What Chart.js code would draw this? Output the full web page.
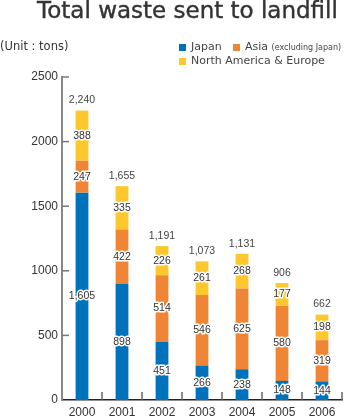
<!DOCTYPE html>
<html>
<head>
<meta charset="utf-8">
<script src="https://cdn.jsdelivr.net/npm/chart.js@4"></script>
<style>
  html, body { margin: 0; padding: 0; background: #fff; }
  body { width: 350px; height: 417px; position: relative; overflow: hidden;
         font-family: "DejaVu Sans", sans-serif; color: #333; }
  #chart { position: absolute; left: 0; top: 0; }
  .title { position: absolute; left: 0; width: 375px; top: -1px; text-align: center;
           font-size: 23px; line-height: 23px; color: #333; white-space: nowrap;
           -webkit-text-stroke: 0.4px #333; }
  .unit { position: absolute; left: 0; top: 39px; font-size: 11.5px; line-height: 14px; white-space: nowrap; }
  .lg { position: absolute; font-size: 11px; line-height: 14px; white-space: nowrap; color: #444; }
  .sw { position: absolute; width: 7px; height: 7px; }
  .lg small { font-size: 8px; }
</style>
</head>
<body>
<canvas id="chart" width="350" height="417"></canvas>
<div class="title">Total waste sent to landfill</div>
<div class="unit">(Unit : tons)</div>
<div id="legend"></div>
<script>
const years = ['2000', '2001', '2002', '2003', '2004', '2005', '2006'];
const japan = [1605, 898, 451, 266, 238, 148, 144];
const asia = [247, 422, 514, 546, 625, 580, 319];
const northAmericaEurope = [388, 335, 226, 261, 268, 177, 198];
const totals = [2240, 1655, 1191, 1073, 1131, 906, 662];
const yTicks = [0, 500, 1000, 1500, 2000, 2500];

const colors = { japan: '#0071bb', asia: '#ef8535', nae: '#fcc82d' };

// legend, laid out in two rows like the original
const legendItems = [
  { html: 'Japan', color: colors.japan, x: 179, y: 40 },
  { html: 'Asia <small>(excluding Japan)</small>', color: colors.asia, x: 233, y: 40 },
  { html: 'North America &amp; Europe', color: colors.nae, x: 179, y: 54 }
];
document.getElementById('legend').innerHTML = legendItems.map(it =>
  `<span class="sw" style="background:${it.color}; left:${it.x}px; top:${it.y + 4}px"></span>` +
  `<span class="lg" style="left:${it.x + 12}px; top:${it.y}px">${it.html}</span>`
).join('');

const numFont = '"Liberation Sans", Arial, sans-serif';
const fmt = v => v.toLocaleString('en-US');

// inward tick marks + value labels
const marksPlugin = {
  id: 'marks',
  afterDatasetsDraw(chart) {
    const ctx = chart.ctx;
    const xs = chart.scales.x, ys = chart.scales.y;
    const area = chart.chartArea;
    ctx.save();
    // y ticks pointing right
    ctx.strokeStyle = '#777';
    ctx.lineWidth = 1.5;
    yTicks.forEach(v => {
      if (v === 0) return;
      const y = ys.getPixelForValue(v);
      ctx.beginPath();
      ctx.moveTo(area.left, y);
      ctx.lineTo(area.left + 7, y);
      ctx.stroke();
    });
    // x ticks at category boundaries pointing up
    const step = (area.right - area.left) / years.length;
    ctx.strokeStyle = '#666';
    years.forEach((_, i) => {
      const x = xs.getPixelForValue(i) + step / 2;
      ctx.beginPath();
      ctx.moveTo(x, area.bottom);
      ctx.lineTo(x, area.bottom - 8);
      ctx.stroke();
    });

    // segment labels with white halo
    ctx.font = '10.5px ' + numFont;
    ctx.textAlign = 'center';
    ctx.textBaseline = 'middle';
    ctx.lineJoin = 'round';
    chart.data.datasets.forEach((ds, di) => {
      const meta = chart.getDatasetMeta(di);
      meta.data.forEach((bar, i) => {
        const y = (bar.y + bar.base) / 2;
        const txt = fmt(ds.data[i]);
        ctx.strokeStyle = '#fff';
        ctx.lineWidth = 3;
        ctx.strokeText(txt, bar.x, y);
        ctx.fillStyle = '#333';
        ctx.fillText(txt, bar.x, y);
      });
    });
    // totals above bars
    const top = chart.getDatasetMeta(chart.data.datasets.length - 1);
    ctx.fillStyle = '#444';
    top.data.forEach((bar, i) => {
      ctx.fillText(fmt(totals[i]), bar.x, bar.y - 10);
    });
    ctx.restore();
  }
};

new Chart(document.getElementById('chart'), {
  type: 'bar',
  data: {
    labels: years,
    datasets: [
      { label: 'Japan', data: japan, backgroundColor: colors.japan },
      { label: 'Asia (excluding Japan)', data: asia, backgroundColor: colors.asia },
      { label: 'North America & Europe', data: northAmericaEurope, backgroundColor: colors.nae }
    ]
  },
  options: {
    responsive: false,
    animation: false,
    layout: { padding: { top: 77, right: 8, bottom: 0, left: 0 } },
    datasets: { bar: { barPercentage: 0.32, categoryPercentage: 1 } },
    plugins: { legend: { display: false }, tooltip: { enabled: false } },
    scales: {
      x: {
        stacked: true,
        grid: { display: false, drawTicks: false },
        border: { color: '#222', width: 1.5 },
        ticks: { color: '#333', font: { size: 12, family: numFont }, padding: 5 },
        afterFit: s => { s.height = 17; }
      },
      y: {
        stacked: true,
        min: 0,
        max: 2500,
        grid: { display: false, drawTicks: false },
        border: { color: '#888', width: 2 },
        ticks: {
          stepSize: 500,
          color: '#333',
          padding: 4,
          font: { size: 12, family: numFont },
          callback: v => String(v)
        },
        afterFit: s => { s.width = 62; }
      }
    }
  },
  plugins: [marksPlugin]
});
</script>
</body>
</html>
